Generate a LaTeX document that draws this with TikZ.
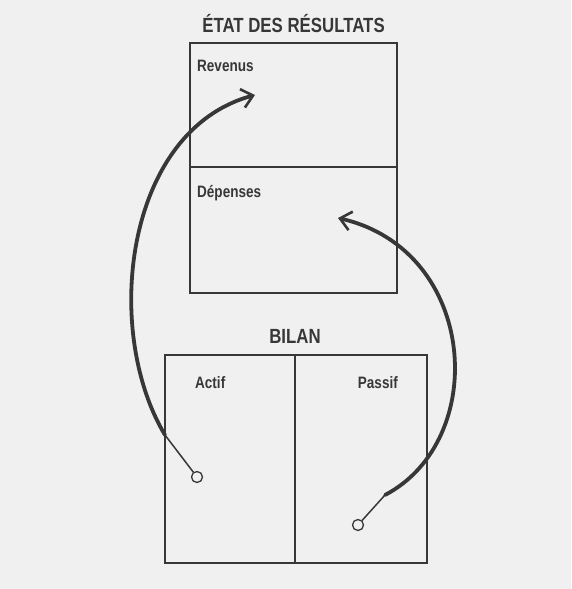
\documentclass[tikz,border=0pt]{standalone}
\usepackage{fontspec}
\newfontfamily\diagfont[FakeStretch=0.82]{Liberation Sans}
\usetikzlibrary{positioning,arrows.meta}
\definecolor{ink}{RGB}{55,55,55}
\definecolor{paper}{RGB}{240,240,240}

\begin{document}
\begin{tikzpicture}[x=1pt, y=-1pt, node distance=1mm,
        panel/.style={draw=ink, line width=2.6pt, inner sep=0pt, outer sep=0pt},
        heading/.style={font=\diagfont\bfseries\fontsize{20.5}{24}\selectfont, text=ink, inner sep=0pt},
        field/.style={font=\diagfont\bfseries\fontsize{16.5}{20}\selectfont, text=ink, inner sep=0pt},
        endpoint/.style={circle, draw=ink, fill=paper, line width=1.3pt, minimum size=11pt, inner sep=0pt},
        flow/.style={draw=ink, line width=3.8pt, line cap=round, -{Straight Barb[length=11pt, width=19pt, line width=2.6pt]}}]
        \fill[paper] (0,0) rectangle (571,589);
        \useasboundingbox (0,0) rectangle (571,589);
        \node[panel, minimum width=207pt, minimum height=124pt] (revenueBox) at (293.5,105) {};
        \node[panel, minimum width=207pt, minimum height=126pt, below=0pt of revenueBox] (expenseBox) {};
        \node[heading, above=11pt of revenueBox.north, anchor=base] (resultTitle) {ÉTAT DES RÉSULTATS};
        \node[field, anchor=base west] (revenueLabel) at ([shift={(7,28)}]revenueBox.north west) {Revenus};
        \node[field, anchor=base west] (expenseLabel) at ([shift={(7,30)}]expenseBox.north west) {Dépenses};
        \node[panel, minimum width=130pt, minimum height=208pt] (assetBox) at (230,459) {};
        \node[panel, minimum width=132pt, minimum height=208pt, right=0pt of assetBox] (liabilityBox) {};
        \node[heading, above=12pt of assetBox.north east, anchor=base] (balanceTitle) {BILAN};
        \node[field, anchor=base west] (assetLabel) at ([shift={(30,33)}]assetBox.north west) {Actif};
        \node[field, anchor=base east] (liabilityLabel) at ([shift={(-29,33)}]liabilityBox.north east) {Passif};
        \node[endpoint] (assetPoint) at ([shift={(32,122)}]assetBox.north west) {};
        \node[endpoint] (liabilityPoint) at ([shift={(63,170)}]liabilityBox.north west) {};
        \coordinate (revenueTip) at ([shift={(65,52)}]revenueBox.north west);
        \coordinate (expenseTip) at ([shift={(148,51)}]expenseBox.north west);
        \coordinate (assetBend) at (165,435);
        \coordinate (liabilityBend) at (385,495);
        \draw[ink, line width=1.5pt] (assetPoint) -- (assetBend);
        \draw[ink, line width=1.5pt] (liabilityPoint) -- (liabilityBend);
        \draw[flow] (assetBend) .. controls (102,330) and (125,130) .. (revenueTip);
        \draw[flow] (liabilityBend) .. controls (490,440) and (478,250) .. (expenseTip);
    \end{tikzpicture}
\end{document}
